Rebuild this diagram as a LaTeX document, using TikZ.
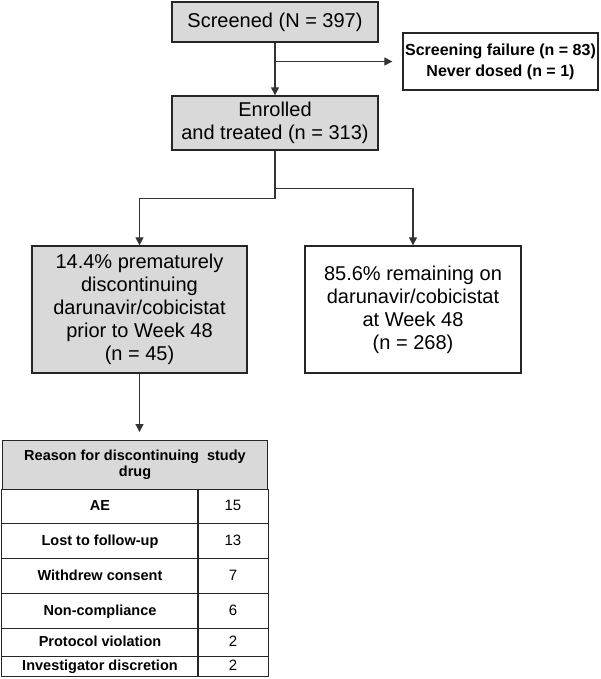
\documentclass[tikz,border=0pt]{standalone}
\usepackage{fontspec}
\setmainfont{Liberation Sans}
\usetikzlibrary{calc,positioning,arrows.meta,matrix}

\definecolor{boxgray}{RGB}{217,217,217}

\begin{document}
\begin{tikzpicture}
          [ x=1pt, y=-1pt,
            ampersand replacement=\&,
            element/.style={
              rectangle,
              draw=black!85,
              line width=1.3pt,
              inner sep=0pt,
              align=center,
              font=\fontsize{20}{23}\selectfont},
            shaded/.style={element, fill=boxgray},
            note/.style={
              element,
              font=\fontsize{16}{21}\selectfont\bfseries},
            cell/.style={
              rectangle,
              draw=black!85,
              line width=1pt,
              inner sep=0pt,
              align=center,
              font=\fontsize{15}{17}\selectfont},
            line/.style={
              draw=black!80,
              line width=1.2pt,
              -{Triangle[length=8pt,width=8pt]},
            },
          ]

          \useasboundingbox (0,0) rectangle (600,679);

          \node (screened) [shaded, minimum width=206pt, minimum height=40pt] at (275,22) {Screened (N = 397)};
          \node (fail) [note, minimum width=195pt, minimum height=57pt] at (500.5,61.5) {Screening failure (n = 83)\\Never dosed (n = 1)};
          \node (enrolled) [shaded, minimum width=206pt, minimum height=54pt] at (275,123) {Enrolled\\and treated (n = 313)};

          \node (disc) [shaded, minimum width=215pt, minimum height=127pt] at (139.5,309.5)
            {14.4\% prematurely\\discontinuing\\darunavir/cobicistat\\prior to Week 48\\(n = 45)};
          \node (remain) [element, minimum width=216pt, minimum height=127pt] at (413,309.5)
            {85.6\% remaining on\\darunavir/cobicistat\\at Week 48\\(n = 268)};

          \node (reasonhead) [cell, fill=boxgray, minimum width=265pt, minimum height=49pt,
            font=\fontsize{14.5}{16}\selectfont\bfseries] at (135,465)
            {Reason for discontinuing\ \ study\\drug};

          \matrix (reasons) [below=-1pt of reasonhead, inner sep=0pt,
              row sep=-1pt, column sep=-1pt,
              nodes={cell, align=none, text height=11pt, text depth=3pt, anchor=center, minimum height=35pt},
              column 1/.style={nodes={minimum width=196pt, font=\fontsize{14.5}{17}\selectfont\bfseries}},
              column 2/.style={nodes={minimum width=70pt}},
              row 1/.style={nodes={minimum height=34pt}},
              row 5/.style={nodes={minimum height=28pt}},
              row 6/.style={nodes={minimum height=20pt}}] {
            \node (ae) {AE}; \& \node {15}; \\
            \node (lost) {Lost to follow-up}; \& \node {13}; \\
            \node (withdrew) {Withdrew consent}; \& \node {7}; \\
            \node (noncomp) {Non-compliance}; \& \node {6}; \\
            \node (protocol) {Protocol violation}; \& \node {2}; \\
            \node (investig) {Investigator discretion}; \& \node {2}; \\
          };

          \draw[line] (screened) -- (enrolled);
          \draw[line, shorten >=10pt] (screened.south |- fail.west) -- (fail.west);
          \draw[line] (enrolled.south) -- ++(0,48) -| (disc.north);
          \draw[line] ($(enrolled.south)+(0,38)$) -| (remain.north);
          \draw[line, shorten >=8pt] (disc.south) -- (disc.south |- reasonhead.north);

        \end{tikzpicture}
\end{document}
